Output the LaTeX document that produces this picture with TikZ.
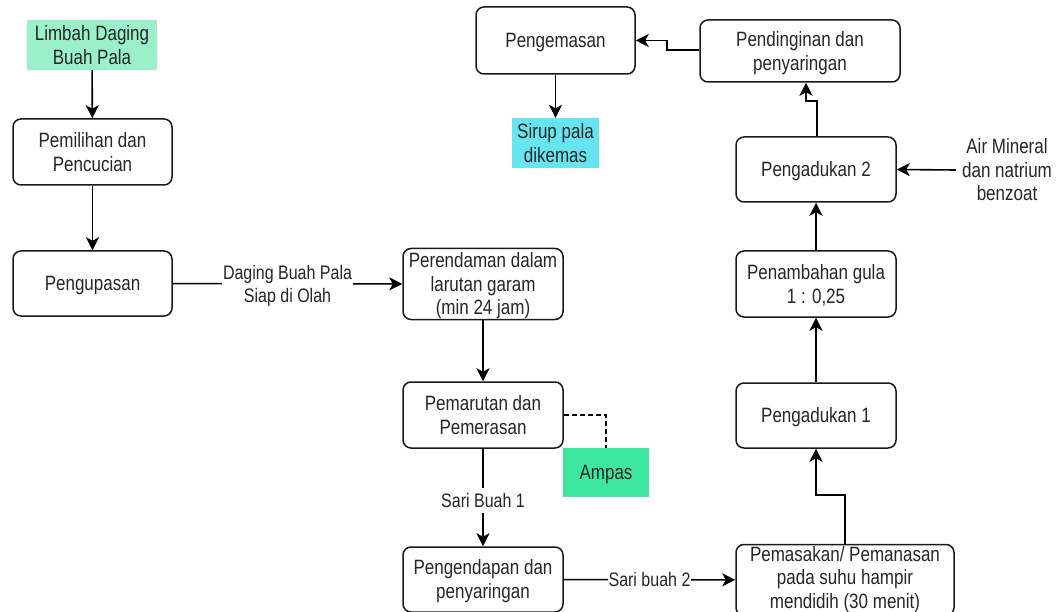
\documentclass[tikz,border=0pt]{standalone}
\usepackage{fontspec}
\usepackage{graphicx}
\setmainfont{Liberation Sans}
\usetikzlibrary{arrows.meta}
\definecolor{mintA}{HTML}{9AF0C9}
\definecolor{mintB}{HTML}{3DE89E}
\definecolor{cyanA}{HTML}{66E5F0}
\definecolor{txt}{HTML}{262626}
\newlength\vsh \newlength\vsd \newsavebox\vsbox
\newcommand{\vsn}[1]{\scalebox{1}[1.22]{\begin{tabular}{@{}c@{}}#1\end{tabular}}}
\newcommand{\vs}[1]{\sbox\vsbox{\vsn{#1}}\setlength\vsh{\ht\vsbox}\setlength\vsd{\dp\vsbox}\raisebox{-2.5pt}[\vsh][\vsd]{\usebox\vsbox}}
\tikzset{
  proc/.style={draw=black!90, line width=1.5pt, rounded corners=8pt, align=center, inner sep=0pt,
    font=\fontsize{17}{19.4}\selectfont, text=txt},
  plain/.style={align=center, inner sep=0pt, font=\fontsize{17}{19.4}\selectfont, text=txt},
  lbl/.style={fill=white, inner sep=1pt, font=\fontsize{16}{18.5}\selectfont, text=txt, align=center},
  flow/.style={line width=1.6pt, -{Stealth[length=13pt,width=13pt,inset=3.5pt]}},
}
\begin{document}
\begin{tikzpicture}[x=1pt,y=-1pt]
\useasboundingbox (0,0) rectangle (1062,612);
\node[plain, fill=mintA, minimum width=130pt, minimum height=50pt] (lim) at (92,45) {\vs{Limbah Daging\\Buah Pala}};
\node[proc, minimum width=159pt, minimum height=66pt] (pem) at (92.5,152) {\vs{Pemilihan dan\\Pencucian}};
\node[proc, minimum width=159pt, minimum height=65pt] (kup) at (92.5,283.5) {\vs{Pengupasan}};
\node[proc, minimum width=160pt, minimum height=66pt] (ren) at (483,284) {\vs{Perendaman dalam\\larutan garam\\ (min 24 jam)}};
\node[proc, minimum width=160pt, minimum height=66pt] (mar) at (483,415) {\vs{Pemarutan dan\\Pemerasan}};
\node[plain, fill=mintB, minimum width=86pt, minimum height=49pt] (amp) at (606,472.5) {\vs{Ampas}};
\node[proc, minimum width=160pt, minimum height=65pt] (end) at (483,579.5) {\vs{Pengendapan dan\\penyaringan}};
\node[proc, minimum width=218pt, minimum height=66pt] (mas) at (845,580) {\vsn{Pemasakan/ Pemanasan\\pada suhu hampir\\mendidih (30 menit)}};
\node[proc, minimum width=160pt, minimum height=65pt] (ad1) at (816,415.5) {\vs{Pengadukan 1}};
\node[proc, minimum width=160pt, minimum height=66pt] (gul) at (816,284) {\vs{Penambahan gula\\1 : 0,25}};
\node[proc, minimum width=160pt, minimum height=65pt] (ad2) at (816,169.5) {\vs{Pengadukan 2}};
\node[plain] (air) at (1007,170) {\vs{Air Mineral\\dan natrium\\benzoat}};
\node[proc, minimum width=200pt, minimum height=62pt] (din) at (800,51) {\vs{Pendinginan dan\\penyaringan}};
\node[proc, minimum width=159pt, minimum height=67pt] (kem) at (555.5,40.5) {\vs{Pengemasan}};
\node[plain, fill=cyanA, minimum width=87pt, minimum height=50pt] (sir) at (555.5,143) {\vs{Sirup pala\\dikemas}};
% connectors
\draw[flow] (lim) -- (pem);
\draw[flow] (pem) -- (kup);
\draw[flow] (kup) -- node[lbl] {\vs{Daging Buah Pala\\Siap di Olah}} (ren);
\draw[flow] (ren) -- (mar);
\draw[line width=1.3pt, dash pattern=on 5pt off 3pt] (mar.east) -| (amp.north);
\draw[flow] (mar) -- node[lbl, pos=0.53] {\vs{Sari Buah 1}} (end);
\draw[flow] (end) -- node[lbl, pos=0.5] {\vs{Sari buah 2}} (mas);
\draw[flow] (mas.north) -- ++(0,-49) -| (ad1.south);
\draw[flow] (ad1) -- (gul);
\draw[flow] (gul) -- (ad2);
\coordinate (airw) at ([xshift=-6pt]air.west);
\draw[flow] (airw) -- (ad2.east);
\draw[flow] ([xshift=1pt]ad2.north) -- ++(0,-35) -| ([xshift=6pt]din.south);
\draw[flow] ([yshift=1pt]din.west) -- ++(-32,0) |- (kem.east);
\draw[flow] (kem) -- (sir);
\end{tikzpicture}
\end{document}
